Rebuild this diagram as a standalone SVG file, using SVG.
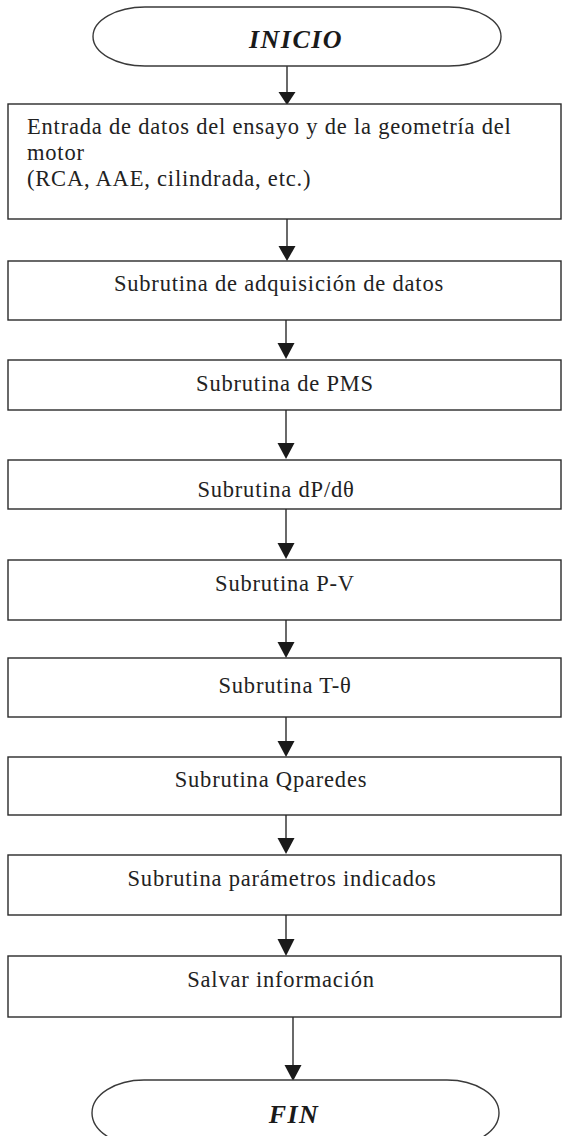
<svg xmlns="http://www.w3.org/2000/svg" width="563" height="1136" viewBox="0 0 563 1136">
<style>
.box{fill:#fff;stroke:#2a2a2a;stroke-width:1.4}
.term{fill:#fff;stroke:#3a3a3a;stroke-width:1.4}
.t{font-family:"Liberation Serif","Times New Roman",serif;font-size:22.5px;letter-spacing:0.8px;fill:#222}
.c{text-anchor:middle}
.tt{font-family:"Liberation Serif","Times New Roman",serif;font-size:26px;font-weight:bold;font-style:italic;letter-spacing:1.5px;fill:#1a1a1a;text-anchor:middle}
.ln{stroke:#2a2a2a;stroke-width:1.4;fill:none}
.ah{fill:#1a1a1a}
</style>
<rect width="563" height="1136" fill="#fff"/>
<g id="connectors">
<line class="ln" x1="287" y1="66" x2="287" y2="95"/>
<path class="ah" d="M278.5,92 L295.5,92 L287,105 Z"/>
<line class="ln" x1="287" y1="219" x2="287" y2="250"/>
<path class="ah" d="M278.5,246 L295.5,246 L287,261 Z"/>
<line class="ln" x1="286" y1="320" x2="286" y2="350"/>
<path class="ah" d="M277.5,343 L294.5,343 L286,359 Z"/>
<line class="ln" x1="286" y1="410" x2="286" y2="450"/>
<path class="ah" d="M277.5,443 L294.5,443 L286,459 Z"/>
<line class="ln" x1="286" y1="509" x2="286" y2="550"/>
<path class="ah" d="M277.5,543 L294.5,543 L286,559 Z"/>
<line class="ln" x1="286" y1="620" x2="286" y2="650"/>
<path class="ah" d="M277.5,642 L294.5,642 L286,658 Z"/>
<line class="ln" x1="286" y1="717" x2="286" y2="748"/>
<path class="ah" d="M277.5,741 L294.5,741 L286,757 Z"/>
<line class="ln" x1="286" y1="815" x2="286" y2="845"/>
<path class="ah" d="M277.5,838 L294.5,838 L286,854 Z"/>
<line class="ln" x1="286" y1="915" x2="286" y2="945"/>
<path class="ah" d="M277.5,939 L294.5,939 L286,956 Z"/>
<line class="ln" x1="293" y1="1012" x2="293" y2="1070"/>
<path class="ah" d="M284.5,1065 L301.5,1065 L293,1081 Z"/>
</g>
<g id="inicio">
<rect class="term" x="93" y="7" width="408" height="59" rx="52" ry="29.5"/>
<text class="tt" x="296" y="48">INICIO</text>
</g>
<g id="entrada">
<rect class="box" x="8" y="104" width="553" height="115"/>
<text class="t" x="27" y="134">Entrada de datos del ensayo y de la geometría del</text>
<text class="t" x="27" y="160">motor</text>
<text class="t" x="27" y="186">(RCA, AAE, cilindrada, etc.)</text>
</g>
<g id="adquisicion">
<rect class="box" x="8" y="261" width="553" height="59"/>
<text class="t c" x="279" y="291">Subrutina de adquisición de datos</text>
</g>
<g id="pms">
<rect class="box" x="8" y="360" width="553" height="50"/>
<text class="t c" x="285" y="391">Subrutina de PMS</text>
</g>
<g id="dpdtheta">
<rect class="box" x="8" y="460" width="553" height="49"/>
<text class="t c" x="276" y="497">Subrutina dP/dθ</text>
</g>
<g id="pv">
<rect class="box" x="8" y="560" width="553" height="60"/>
<text class="t c" x="285" y="591">Subrutina P-V</text>
</g>
<g id="ttheta">
<rect class="box" x="8" y="658" width="553" height="59"/>
<text class="t c" x="285" y="693">Subrutina T-θ</text>
</g>
<g id="qparedes">
<rect class="box" x="8" y="757" width="553" height="58"/>
<text class="t c" x="271" y="787">Subrutina Qparedes</text>
</g>
<g id="parametros">
<rect class="box" x="8" y="855" width="553" height="60"/>
<text class="t c" x="282" y="886">Subrutina parámetros indicados</text>
</g>
<g id="salvar">
<rect class="box" x="8" y="956" width="553" height="61"/>
<text class="t c" x="281" y="987">Salvar información</text>
</g>
<g id="fin">
<rect class="term" x="92" y="1080" width="407" height="66" rx="52" ry="33"/>
<text class="tt" x="294" y="1123">FIN</text>
</g>
</svg>
